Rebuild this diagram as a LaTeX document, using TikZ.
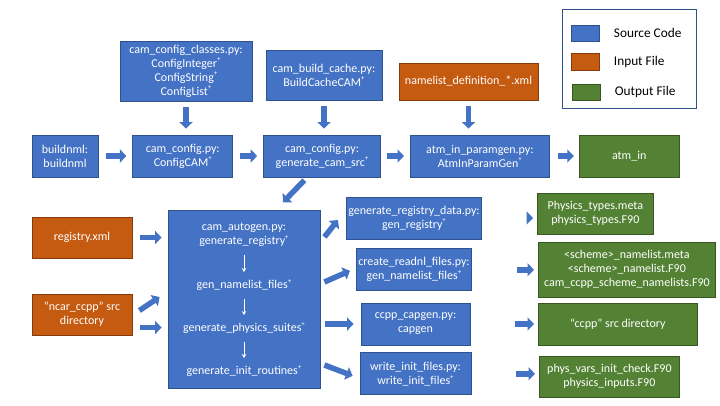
\documentclass[tikz,border=0pt]{standalone}
\usepackage{fontspec}
\setmainfont{Carlito}
\usetikzlibrary{arrows.meta,calc,positioning}
\definecolor{CodeBlue}{HTML}{4472C4}
\definecolor{CodeEdge}{HTML}{2F528F}
\definecolor{InputOrange}{HTML}{C55A11}
\definecolor{InputEdge}{HTML}{843C0C}
\definecolor{OutputGreen}{HTML}{548235}
\definecolor{OutputEdge}{HTML}{385723}
\newcommand{\pl}{\raisebox{0.9ex}{\fontsize{7}{7}\selectfont+}}

\begin{document}
\begin{tikzpicture}[x=1pt,y=-1pt,
    box/.style={line width=0.8pt,text=white,align=center,inner sep=2pt,
      font=\fontsize{12}{14}\selectfont},
    srccode/.style={box,draw=CodeEdge,fill=CodeBlue},
    infile/.style={box,draw=InputEdge,fill=InputOrange},
    outfile/.style={box,draw=OutputEdge,fill=OutputGreen},
    swatch/.style={line width=0.8pt,minimum width=28pt,minimum height=16pt},
    keytext/.style={right=11pt of #1,font=\fontsize{13.3}{16}\selectfont},
    flow/.style={-{Triangle[width=13pt,length=6.5pt]},line width=5.5pt,
      color=CodeBlue,shorten <=8pt,shorten >=6pt},
    substep/.style={-{Stealth[width=4.5pt,length=4pt]},white,line width=0.9pt,
      shorten <=6pt,shorten >=5pt}
  ]
    \useasboundingbox (0,0) rectangle (720,405);

    % top row
    \node[srccode,minimum width=132pt,minimum height=60pt] (classes) at (186,71) {
      cam\_config\_classes.py:\\ConfigInteger\pl\\ConfigString\pl\\ConfigList\pl};
    \node[srccode,minimum width=116pt,minimum height=50pt] (buildcache) at (324,75) {
      cam\_build\_cache.py:\\BuildCacheCAM\pl};
    \node[infile,minimum width=139pt,minimum height=37pt] (nmldef) at (468.5,81.5) {
      namelist\_definition\_*.xml};

    % main row
    \node[srccode,minimum width=66pt,minimum height=42pt] (buildnml) at (65,156) {
      buildnml:\\buildnml};
    \node[srccode,minimum width=100pt,minimum height=42pt,right=34pt of buildnml] (configcam) {
      cam\_config.py:\\ConfigCAM\pl};
    \node[srccode,minimum width=117pt,minimum height=42pt,right=30pt of configcam] (gensrc) {
      cam\_config.py:\\generate\_cam\_src\pl};
    \node[srccode,minimum width=139pt,minimum height=42pt,right=29pt of gensrc] (paramgen) {
      atm\_in\_paramgen.py:\\AtmInParamGen\pl};
    \node[outfile,minimum width=100pt,minimum height=42pt,right=29pt of paramgen] (atmin) {
      atm\_in};

    % autogen block
    \node[infile,minimum width=100pt,minimum height=41pt] (registry) at (82,237.5) {
      registry.xml};
    \node[infile,minimum width=100pt,minimum height=41pt] (ncar) at (82,314.5) {
      “ncar\_ccpp” src\\directory};
    \node[srccode,minimum width=152pt,minimum height=178pt] (autogen) at (244,299) {};
    \node[box] (agreg) at (244,234.5) {cam\_autogen.py:\\generate\_registry\pl};
    \node[box] (agnml) at (244,285) {gen\_namelist\_files\pl};
    \node[box] (agphys) at (244,328) {generate\_physics\_suites\pl};
    \node[box] (aginit) at (244,371) {generate\_init\_routines\pl};

    % generators
    \node[srccode,minimum width=112pt,minimum height=42pt] (regdata) at (414,218) {
      generate\_registry\_data.py:\\gen\_registry\pl};
    \node[srccode,minimum width=112pt,minimum height=42pt,below=9pt of regdata] (readnl) {
      create\_readnl\_files.py:\\gen\_namelist\_files\pl};
    \node[srccode,minimum width=109pt,minimum height=42pt] (capgen) at (415.5,324) {
      ccpp\_capgen.py:\\capgen};
    \node[srccode,minimum width=111pt,minimum height=42pt,below=7pt of capgen] (writeinit) {
      write\_init\_files.py:\\write\_init\_files\pl};

    % outputs
    \node[outfile,anchor=west,minimum width=116pt,minimum height=41pt] (phystypes) at (537,213.5) {
      Physics\_types.meta\\physics\_types.F90};
    \node[outfile,anchor=west,minimum width=177pt,minimum height=55pt] (schemenml) at (538,269.5) {
      <scheme>\_namelist.meta\\<scheme>\_namelist.F90\\cam\_ccpp\_scheme\_namelists.F90};
    \node[outfile,anchor=west,minimum width=159pt,minimum height=42pt] (ccppsrc) at (538,324) {
      “ccpp” src directory};
    \node[outfile,anchor=west,minimum width=140pt,minimum height=41pt] (physvars) at (539,376.5) {
      phys\_vars\_init\_check.F90\\physics\_inputs.F90};

    % legend
    \node[draw=CodeEdge,line width=0.8pt,minimum width=134pt,minimum height=99pt] (legend) at (629,58.5) {};
    \node[swatch,draw=CodeEdge,fill=CodeBlue] (keycode) at (585,33) {};
    \node[swatch,draw=InputEdge,fill=InputOrange,minimum height=17pt] (keyin) at (585,61.5) {};
    \node[swatch,draw=OutputEdge,fill=OutputGreen] (keyout) at (586,92) {};
    \node[keytext=keycode] {Source Code};
    \node[keytext=keyin] {Input File};
    \node[keytext=keyout] {Output File};

    % connectors
    \draw[flow,shorten <=6pt] (classes) -- (classes |- configcam.north);
    \draw[flow,shorten <=6pt] (buildcache) -- (buildcache |- gensrc.north);
    \draw[flow,shorten <=6pt] (nmldef) -- (nmldef |- paramgen.north);
    \draw[flow] (buildnml) -- (configcam);
    \draw[flow,shorten <=7pt] (configcam) -- (gensrc);
    \draw[flow,shorten <=6pt] (gensrc) -- (paramgen);
    \draw[flow,shorten <=8pt,shorten >=5pt] (paramgen) -- (atmin);
    \draw[flow,shorten <=4pt,shorten >=10pt] ([xshift=-15pt]gensrc.south) -- ([xshift=32pt]autogen.north);

    \draw[flow] (registry) -- (registry -| autogen.west);
    \draw[flow,shorten <=0pt,shorten >=0pt] ($(ncar.east)+(7,-4)$) -- ($(autogen.west)+(-8,-2)$);
    \draw[flow,shorten <=0pt] ($(ncar.east)+(8,13)$) coordinate (ncarlow) -- (ncarlow -| autogen.west);

    \draw[substep] (agreg) -- (agnml);
    \draw[substep] (agnml) -- (agphys);
    \draw[substep] (agphys) -- (aginit);

    \draw[flow,shorten <=0pt,shorten >=0pt] ($(autogen.east)+(4,-62)$) -- ($(regdata.west)+(-8,2)$);
    \draw[flow,shorten <=0pt,shorten >=0pt] ($(autogen.east)+(4,-17)$) -- ($(readnl.west)+(-6,1)$);
    \draw[flow,shorten <=5pt,shorten >=7pt] (autogen.east |- capgen) -- (capgen);
    \draw[flow,shorten <=0pt,shorten >=0pt] ($(autogen.east)+(4,66)$) -- ($(writeinit.west)+(-7,2)$);

    \draw[flow,shorten <=45pt,shorten >=4pt] (regdata) -- (regdata -| phystypes.west);
    \draw[flow,shorten <=45pt,shorten >=4pt] (readnl) -- (readnl -| schemenml.west);
    \draw[flow,shorten <=45pt,shorten >=4pt] (capgen) -- (ccppsrc);
    \draw[flow,shorten <=45pt,shorten >=4pt] (writeinit) -- (writeinit -| physvars.west);
  \end{tikzpicture}
\end{document}
